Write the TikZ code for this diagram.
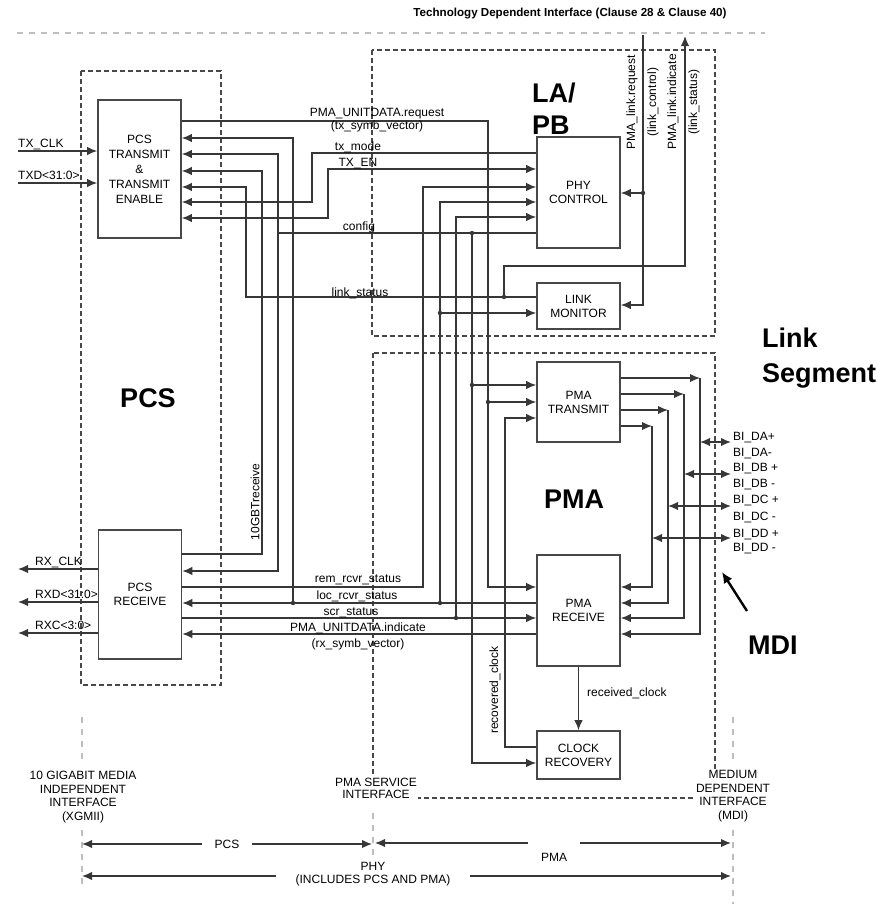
\documentclass[tikz,border=0pt]{standalone}
\usepackage{fontspec}
\setmainfont{Liberation Sans}
\usetikzlibrary{arrows.meta,positioning}
\definecolor{phywire}{RGB}{55,55,55}
\definecolor{phyframe}{RGB}{72,72,72}
\definecolor{phyiface}{RGB}{190,190,190}

\begin{document}
\begin{tikzpicture}[x=1pt,y=-1pt,
  block/.style={rectangle,draw=phyframe,line width=1.7pt,fill=white,minimum width=83pt,
    inner sep=0pt,align=center,font=\fontsize{12}{14}\selectfont},
  dashbox/.style={draw=phyframe,line width=1.4pt,dash pattern=on 5pt off 3pt},
  iface/.style={draw=phyiface,line width=1.6pt,dash pattern=on 6pt off 6pt},
  wire/.style={draw=phywire,line width=1.35pt},
  sig/.style={wire,-{Latex[length=10pt,width=8.5pt]}},
  bisig/.style={wire,{Latex[length=10pt,width=8.5pt]}-{Latex[length=10pt,width=8.5pt]}},
  lbl/.style={inner sep=0pt,anchor=base,font=\fontsize{12}{14}\selectfont},
  vlbl/.style={inner sep=0pt,rotate=90,font=\fontsize{12}{14}\selectfont},
  ifacetext/.style={inner sep=1pt,align=center,font=\fontsize{12}{13.7}\selectfont},
  big/.style={inner sep=0pt,align=left,font=\bfseries\fontsize{27}{32}\selectfont}
]
\useasboundingbox (0,0) rectangle (892,905);

\node[lbl,font=\bfseries\fontsize{11.6}{13}\selectfont] (tdi) at (570,16) {Technology Dependent Interface (Clause 28 \& Clause 40)};
\draw[iface] (17,33) -- (765,33);
\draw[iface] (82,717) -- (82,760);
\draw[iface] (82,830) -- (82,884);
\draw[iface] (373,813) -- (373,860);
\draw[iface] (733,717) -- (733,760);
\draw[iface] (733,830) -- (733,904);

\draw[dashbox] (81,71) rectangle (221,685);
\draw[dashbox] (372,50) rectangle (715,336);
\draw[dashbox] (373,353) rectangle (715,798);

\node[ifacetext] (xgmii) at (83,797) {10 GIGABIT MEDIA\\INDEPENDENT\\INTERFACE\\(XGMII)};
\node[ifacetext,fill=white,font=\fontsize{12}{12}\selectfont] (pmasi) at (376,788) {PMA SERVICE\\INTERFACE};
\node[ifacetext,fill=white] (mdi) at (733,796) {MEDIUM\\DEPENDENT\\INTERFACE\\(MDI)};

\node[big] (pcslbl) at (148,398) {PCS};
\node[big] (pmalbl) at (574,499) {PMA};
\node[big,anchor=north west] (lapb) at (532,83) {LA/\\PB};
\node[big,anchor=north west,font=\bfseries\fontsize{27}{35}\selectfont] (linkseg) at (762,328) {Link\\Segment};
\node[big,anchor=base west] (mdilbl) at (748,654) {MDI};

\node[block,minimum height=138pt,font=\fontsize{12}{15}\selectfont] (pcstx) at (139.5,169) {PCS\\TRANSMIT\\\&\\TRANSMIT\\ENABLE};
\node[block,minimum height=129pt] (pcsrx) at (140,594.5) {PCS\\RECEIVE};
\node[block,minimum height=111pt] (phyctl) at (578.5,192.5) {PHY\\CONTROL};
\node[block,minimum height=46pt] (linkmon) at (578.5,306) {LINK\\MONITOR};
\node[block,minimum height=80pt] (pmatx) at (578.5,402) {PMA\\TRANSMIT};
\node[block,minimum height=111pt] (pmarx) at (578.5,610.5) {PMA\\RECEIVE};
\node[block,minimum height=48pt] (clkrec) at (578.5,755) {CLOCK\\RECOVERY};

\coordinate (txclk) at (18,151);
\coordinate (txd) at (18,183);
\coordinate (rxclk) at (18,569);
\coordinate (rxd) at (18,602);
\coordinate (rxc) at (18,633);
\draw[sig] (txclk) -- (pcstx.west |- txclk);
\draw[sig] (txd) -- (pcstx.west |- txd);
\draw[sig] (pcsrx.west |- rxclk) -- (rxclk);
\draw[sig] (pcsrx.west |- rxd) -- (rxd);
\draw[sig] (pcsrx.west |- rxc) -- (rxc);
\node[lbl,anchor=base west] (txclklbl) at (18,147) {TX\_CLK};
\node[lbl,anchor=base west] (txdlbl) at (18,179) {TXD<31:0>};
\node[lbl,anchor=base west] (rxclklbl) at (35,565) {RX\_CLK};
\node[lbl,anchor=base west] (rxdlbl) at (35,598) {RXD<31:0>};
\node[lbl,anchor=base west] (rxclbl) at (35,629) {RXC<3:0>};

\draw[sig] (pcstx.east |- 0,121) -| (488,587) -- (pmarx.west |- 0,587);
\draw[sig] (488,402) -- (pmatx.west |- 0,402);
\node[lbl] (reqlbl) at (377,116) {PMA\_UNITDATA.request};
\node[lbl] (txvlbl) at (377,129) {(tx\_symb\_vector)};

\draw[sig] (phyctl.west |- 0,153) -| (312,202) -- (pcstx.east |- 0,202);
\node[lbl] (tmlbl) at (358,150) {tx\_mode};
\draw[bisig] (pcstx.east |- 0,218) -| (328,169) -- (phyctl.west |- 0,169);
\node[lbl] (txenlbl) at (358,166) {TX\_EN};

\draw[wire] (phyctl.west |- 0,233) -- (278,233);
\draw[sig] (278,233) |- (pcstx.east |- 0,154);
\draw[sig] (278,233) |- (pcsrx.east |- 0,571);
\draw[sig] (472,233) |- (clkrec.west |- 0,763);
\draw[sig] (472,385) -- (pmatx.west |- 0,385);
\node[lbl] (cfglbl) at (359,230) {config};

\draw[sig] (pcsrx.east |- 0,554) -| (262,171) -- (pcstx.east |- 0,171);
\node[vlbl] (btlbl) at (255,502) {10GBTreceive};

\draw[sig] (linkmon.west |- 0,297) -| (246,187) -- (pcstx.east |- 0,187);
\coordinate (tdilink) at (685,36);
\draw[sig] (504,297) |- (685,266) -- (tdilink);
\node[lbl] (lslbl) at (360,296) {link\_status};

\draw[sig] (pcsrx.east |- 0,587) -| (423,187) -- (phyctl.west |- 0,187);
\node[lbl] (remlbl) at (358,582) {rem\_rcvr\_status};

\draw[sig] (pmarx.west |- 0,603) -- (pcsrx.east |- 0,603);
\draw[sig] (293,603) |- (pcstx.east |- 0,138);
\draw[sig] (440,603) |- (phyctl.west |- 0,202);
\draw[sig] (440,313) -- (linkmon.west |- 0,313);
\node[lbl] (loclbl) at (357,599) {loc\_rcvr\_status};

\draw[sig] (pcsrx.east |- 0,618) -- (pmarx.west |- 0,618);
\draw[sig] (456,618) |- (phyctl.west |- 0,217);
\node[lbl] (scrlbl) at (351,615) {scr\_status};

\draw[sig] (pmarx.west |- 0,634) -- (pcsrx.east |- 0,634);
\node[lbl] (indlbl) at (358,631) {PMA\_UNITDATA.indicate};
\node[lbl] (rxvlbl) at (358,647) {(rx\_symb\_vector)};

\draw[sig] (pmarx.south) -- (clkrec.north);
\node[lbl,anchor=base west] (rcdlbl) at (587,696) {received\_clock};
\draw[sig] (clkrec.west |- 0,747) -| (505,418) -- (pmatx.west |- 0,418);
\node[vlbl] (rcvlbl) at (495,690) {recovered\_clock};

\coordinate (tdireq) at (643,35);
\draw[sig] (tdireq) |- (linkmon.east |- 0,305);
\draw[sig] (643,193) -- (phyctl.east |- 0,193);
\node[vlbl] (lreqlbl) at (632,102) {PMA\_link.request};
\node[vlbl] (lctllbl) at (653,102) {(link\_control)};
\node[vlbl] (lindlbl) at (673,102) {PMA\_link.indicate};
\node[vlbl] (lstlbl) at (694,102) {(link\_status)};

\draw[sig] (pmatx.east |- 0,378) -- (700,378);
\draw[sig] (700,378) |- (pmarx.east |- 0,634);
\draw[sig] (pmatx.east |- 0,394) -- (684,394);
\draw[sig] (684,394) |- (pmarx.east |- 0,618);
\draw[sig] (pmatx.east |- 0,410) -- (668,410);
\draw[sig] (668,410) |- (pmarx.east |- 0,603);
\draw[sig] (pmatx.east |- 0,426) -- (652,426);
\draw[sig] (652,426) |- (pmarx.east |- 0,587);

\coordinate (bida) at (731,442);
\coordinate (bidb) at (731,474);
\coordinate (bidc) at (731,506);
\coordinate (bidd) at (731,538);
\draw[bisig] (700,442) -- (bida);
\draw[bisig] (684,474) -- (bidb);
\draw[bisig] (668,506) -- (bidc);
\draw[bisig] (652,538) -- (bidd);
\node[lbl,anchor=base west] (dap) at (733,440) {BI\_DA+};
\node[lbl,anchor=base west] (dam) at (733,456) {BI\_DA-};
\node[lbl,anchor=base west] (dbp) at (733,471) {BI\_DB +};
\node[lbl,anchor=base west] (dbm) at (733,487) {BI\_DB -};
\node[lbl,anchor=base west] (dcp) at (733,503) {BI\_DC +};
\node[lbl,anchor=base west] (dcm) at (733,520) {BI\_DC -};
\node[lbl,anchor=base west] (ddp) at (733,537) {BI\_DD +};
\node[lbl,anchor=base west] (ddm) at (733,551) {BI\_DD -};

\coordinate (mditail) at (747,611);
\coordinate (mdihead) at (722,572);
\draw[draw=black,line width=2.4pt,-{Latex[length=11pt,width=10pt]}] (mditail) -- (mdihead);

\fill[phywire] (488,402) circle (2.2pt);
\fill[phywire] (293,603) circle (2.2pt);
\fill[phywire] (440,603) circle (2.2pt);
\fill[phywire] (440,313) circle (2.2pt);
\fill[phywire] (472,233) circle (2.2pt);
\fill[phywire] (472,385) circle (2.2pt);
\fill[phywire] (456,618) circle (2.2pt);
\fill[phywire] (504,297) circle (2.2pt);
\fill[phywire] (643,193) circle (2.2pt);

\coordinate (pcsL) at (82,844);
\coordinate (pcsR) at (372,844);
\draw[bisig] (pcsL) -- node[fill=white,inner xsep=13pt,inner ysep=1pt,font=\fontsize{12}{14}\selectfont] (pcsspan) {PCS} (pcsR);
\coordinate (pmaL) at (375,843);
\coordinate (pmagapL) at (528,843);
\coordinate (pmagapR) at (580,843);
\coordinate (pmaR) at (731,843);
\draw[wire,{Latex[length=10pt,width=8.5pt]}-] (pmaL) -- (pmagapL);
\draw[sig] (pmagapR) -- (pmaR);
\node[lbl] (pmaspan) at (554,861) {PMA};
\coordinate (phyL) at (82,876);
\coordinate (phyR) at (731,876);
\draw[bisig] (phyL) -- (phyR);
\node[ifacetext,fill=white,inner xsep=20pt,font=\fontsize{12}{13}\selectfont] (physpan) at (373,874) {PHY\\(INCLUDES PCS AND PMA)};
\end{tikzpicture}
\end{document}
